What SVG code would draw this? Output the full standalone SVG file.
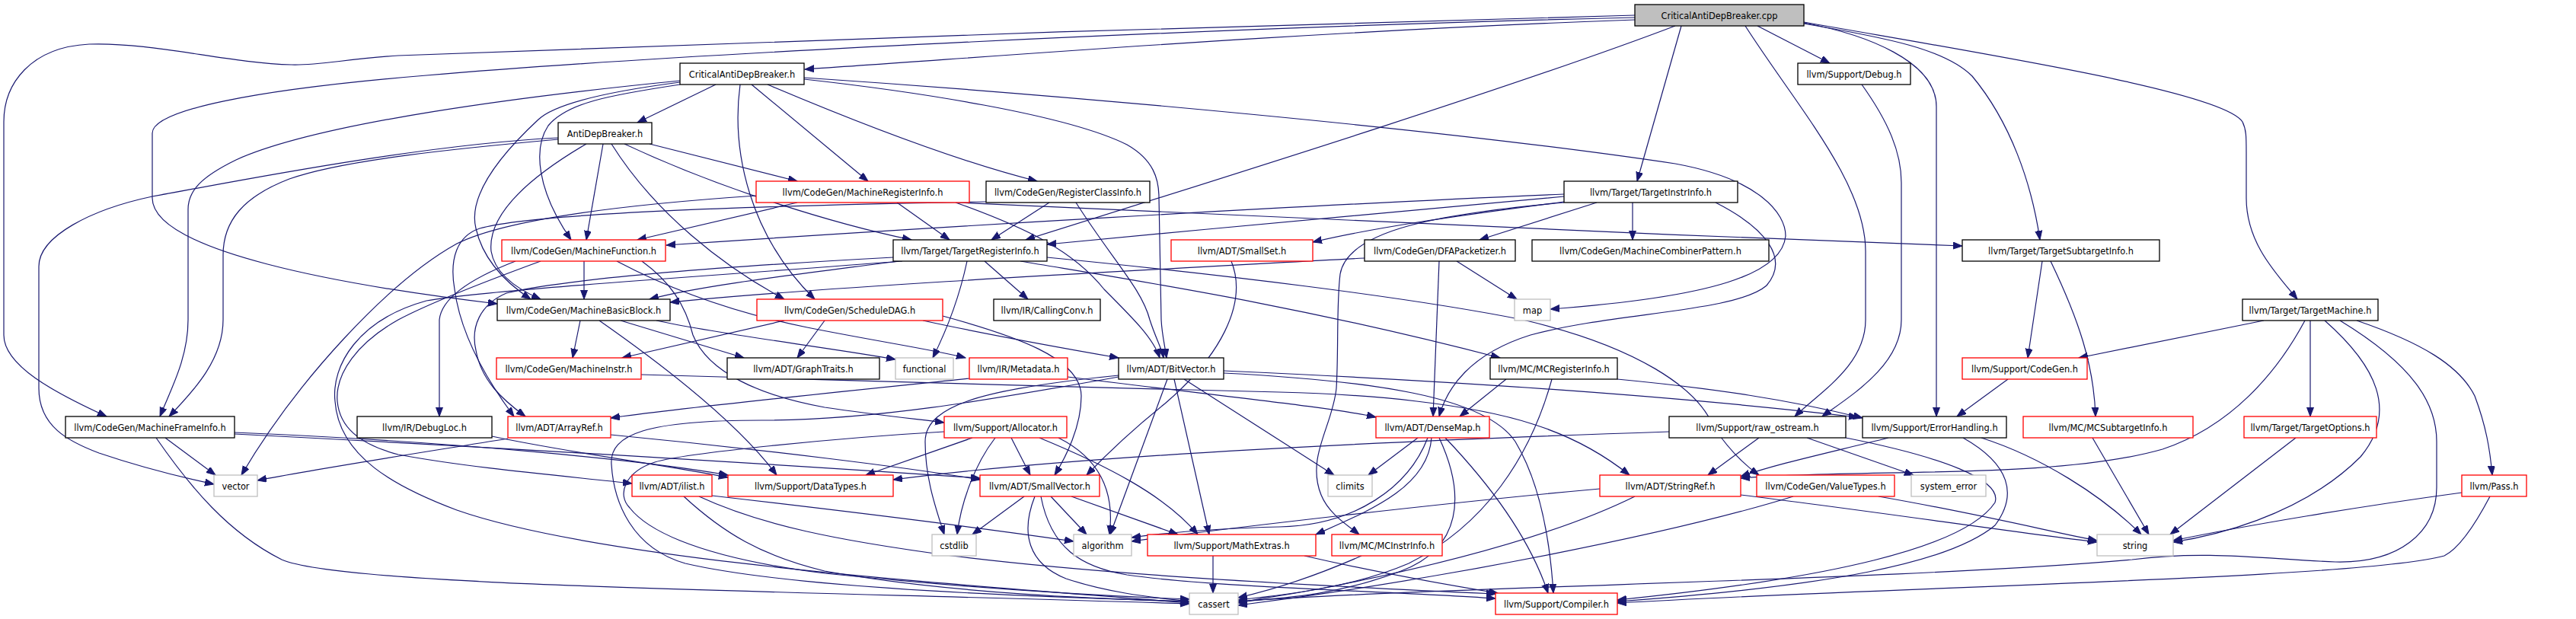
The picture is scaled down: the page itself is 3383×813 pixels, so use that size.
<svg xmlns="http://www.w3.org/2000/svg" width="3383" height="813" viewBox="0 0 3383 813">
<style>
.node rect{fill:#ffffff;stroke:#000000;stroke-width:1.3}
.node.red rect{stroke:#ff0000}
.node.gray rect{stroke:#bfbfbf}
.node.root rect{fill:#bfbfbf}
.node text{font-family:"DejaVu Sans",sans-serif;font-size:11.4px;fill:#000;text-anchor:middle}
#edges path{fill:none;stroke:#191970;stroke-width:1.2;marker-end:url(#arr)}
</style>
<defs>
<marker id="arr" markerUnits="userSpaceOnUse" markerWidth="13" markerHeight="10" refX="12" refY="4.5" orient="auto">
<path d="M0,0 L12,4.5 L0,9 z" fill="#191970" stroke="#191970" stroke-width="1"/>
</marker>
</defs>
<rect width="3383" height="813" fill="#ffffff"/>
<g id="edges">
<path d="M2147,26 C1700,42 1300,75 1057,91"/>
<path d="M2147,20 C1700,30 900,58 523,73 C450,78 420,86 383,85 C300,83 200,55 117,58 C40,62 5,110 5,160 L5,440 C5,480 70,515 140,547"/>
<path d="M2147,23 C1600,36 900,70 560,99 C330,118 200,145 200,175 L200,260 C200,330 450,375 653,399"/>
<path d="M2200,34 C2000,110 1650,220 1347,315"/>
<path d="M2208,34 L2150,238"/>
<path d="M2308,34 L2403,83"/>
<path d="M2292,34 C2360,140 2450,240 2450,330 L2450,420 C2450,480 2390,515 2357,547"/>
<path d="M2369,30 C2450,45 2543,80 2543,140 L2543,547"/>
<path d="M2369,31 C2480,50 2555,65 2590,100 C2640,160 2668,240 2679,315"/>
<path d="M2369,29 C2600,70 2920,120 2945,160 C2950,170 2950,180 2950,200 L2950,260 C2950,320 2990,360 3017,393"/>
<path d="M940,111 L837,161"/>
<path d="M893,106 C700,125 420,160 310,210 C265,232 247,250 247,275 L247,420 C247,470 225,510 210,547"/>
<path d="M893,111 C800,125 745,135 720,165 C700,195 705,250 750,315"/>
<path d="M893,108 C800,120 730,135 707,157 C650,210 615,260 625,300 C635,345 670,375 697,393"/>
<path d="M987,111 L1140,238"/>
<path d="M1008,111 C1100,150 1250,210 1362,238"/>
<path d="M972,111 C960,200 985,310 1070,393"/>
<path d="M1056,104 C1200,120 1400,150 1480,190 C1515,210 1522,235 1522,260 L1525,420 C1526,440 1530,455 1532,470"/>
<path d="M1056,102 C1400,125 1900,170 2200,215 C2310,235 2345,280 2345,310 C2340,360 2250,390 2036,406"/>
<path d="M733,183 C600,195 450,210 380,235 C320,258 293,290 293,335 L293,420 C293,470 258,510 222,547"/>
<path d="M733,181 C550,190 300,240 200,258 C120,275 51,310 51,350 L51,510 C51,560 90,580 130,595 C180,612 230,625 281,636"/>
<path d="M792,189 L770,315"/>
<path d="M770,189 C700,230 640,280 645,330 C650,360 680,380 710,393"/>
<path d="M853,189 L1047,238"/>
<path d="M803,189 C860,280 950,350 1030,393"/>
<path d="M820,189 C950,250 1100,295 1197,315"/>
<path d="M1047,266 L837,315"/>
<path d="M1178,266 L1247,315"/>
<path d="M1255,266 C1350,300 1410,330 1450,380 C1490,420 1515,445 1523,470"/>
<path d="M1257,266 C1500,280 2100,305 2577,323"/>
<path d="M993,257 C800,270 660,290 600,320 C510,370 390,500 317,624"/>
<path d="M1378,266 L1302,315"/>
<path d="M1413,266 C1460,340 1500,380 1510,420 C1518,445 1526,458 1528,470"/>
<path d="M1295,265 C1000,270 700,280 630,300 C600,310 590,340 597,380 C605,440 640,500 675,547"/>
<path d="M2054,255 C1700,270 1200,300 875,322"/>
<path d="M2054,258 C1800,280 1600,300 1375,321"/>
<path d="M2054,265 C1900,285 1800,300 1724,318"/>
<path d="M2097,266 L1943,315"/>
<path d="M2144,266 L2144,315"/>
<path d="M2054,266 C1900,280 1770,300 1760,360 C1755,400 1758,460 1755,510 C1750,560 1715,600 1735,650 C1745,675 1770,690 1785,702"/>
<path d="M2253,266 C2320,300 2350,340 2320,375 C2280,410 2120,410 2010,440 C1930,465 1900,510 1890,547"/>
<path d="M767,343 L767,393"/>
<path d="M677,343 C620,365 580,390 577,420 L577,547"/>
<path d="M710,343 C650,365 570,395 523,420 C470,450 440,490 443,527 C446,560 470,583 523,597 C620,615 740,625 830,635"/>
<path d="M810,343 C880,380 960,410 1060,430 C1150,448 1230,460 1268,470"/>
<path d="M843,343 C880,370 900,400 910,440 C930,490 1000,520 1083,535 C1150,545 1200,550 1240,555"/>
<path d="M1270,343 C1260,390 1245,430 1225,470"/>
<path d="M1293,343 L1350,393"/>
<path d="M1340,343 C1500,370 1700,400 1970,470"/>
<path d="M1375,338 C1600,360 1850,390 2000,420 C2150,455 2230,510 2250,560 C2270,590 2290,610 2310,624"/>
<path d="M1173,338 C950,350 750,365 665,385 C630,400 618,430 625,460 C632,500 660,525 690,547"/>
<path d="M1180,343 C1050,360 920,375 853,393"/>
<path d="M1185,343 C900,365 650,380 560,395 C470,420 435,480 440,527 C445,600 520,640 600,670 C800,740 1300,770 1562,792"/>
<path d="M762,421 L752,470"/>
<path d="M787,421 C900,500 980,570 1020,624"/>
<path d="M815,421 L977,470"/>
<path d="M862,421 C950,440 1080,455 1176,472"/>
<path d="M1030,421 L817,470"/>
<path d="M1083,421 L1047,470"/>
<path d="M1212,421 C1300,440 1400,458 1469,470"/>
<path d="M1238,415 C1330,440 1420,470 1420,520 C1420,560 1400,600 1385,624"/>
<path d="M1617,343 C1640,400 1600,470 1530,530 C1480,570 1450,600 1427,624"/>
<path d="M1792,339 C1500,355 1100,375 880,397"/>
<path d="M1890,343 L1882,547"/>
<path d="M1913,343 L1992,393"/>
<path d="M2682,343 L2663,470"/>
<path d="M2693,343 C2730,420 2750,480 2752,547"/>
<path d="M2973,421 L2730,470"/>
<path d="M3027,421 C2990,490 2930,560 2840,590 C2700,630 2450,615 2286,628"/>
<path d="M3034,421 L3034,547"/>
<path d="M3053,421 C3120,480 3150,540 3100,600 C3020,680 2900,705 2854,712"/>
<path d="M3073,421 C3170,480 3200,530 3200,580 L3200,640 C3200,700 3150,740 3067,738 C2980,735 2900,722 2800,735 C2500,762 1900,770 1626,790"/>
<path d="M3095,421 C3180,450 3230,480 3250,520 C3265,560 3270,590 3273,624"/>
<path d="M2445,111 C2480,160 2497,200 2497,240 L2497,420 C2497,480 2430,520 2393,547"/>
<path d="M3015,575 L2850,702"/>
<path d="M3233,647 C3100,665 2950,690 2854,710"/>
<path d="M3270,652 C3250,690 3230,720 3210,730 C3100,760 2500,770 2124,792"/>
<path d="M2637,498 L2570,547"/>
<path d="M2748,575 L2822,702"/>
<path d="M2480,575 C2400,595 2330,610 2286,626"/>
<path d="M2578,575 C2640,610 2650,650 2620,690 C2560,740 2400,770 2124,790"/>
<path d="M2602,575 C2680,600 2760,650 2812,702"/>
<path d="M2310,575 L2243,624"/>
<path d="M2373,575 L2513,624"/>
<path d="M2424,575 C2550,600 2630,630 2620,660 C2580,720 2400,760 2124,788"/>
<path d="M2192,567 C1800,580 1400,600 1173,630"/>
<path d="M1978,498 L1917,547"/>
<path d="M2124,498 C2250,510 2350,525 2446,549"/>
<path d="M2038,498 C2010,600 1950,690 1850,740 C1780,770 1700,780 1626,788"/>
<path d="M1533,498 L1458,702"/>
<path d="M1542,498 L1588,702"/>
<path d="M1555,498 L1752,624"/>
<path d="M1469,493 C1300,510 1215,530 1215,580 C1215,630 1230,670 1240,702"/>
<path d="M1607,487 C1900,500 2200,520 2440,548"/>
<path d="M1607,490 C1800,500 1950,520 1990,580 C2020,630 2035,700 2040,779"/>
<path d="M1469,495 C1300,525 1150,552 1000,552 C850,552 800,570 803,610 C806,660 830,720 900,740 C1050,775 1400,785 1562,790"/>
<path d="M1273,497 C1100,515 900,535 802,549"/>
<path d="M1402,495 C1600,520 1750,535 1807,548"/>
<path d="M842,492 C1100,500 1400,508 1680,515 C1800,518 1930,530 2013,557 C2070,575 2110,600 2140,624"/>
<path d="M1277,575 L1137,624"/>
<path d="M1307,575 C1280,610 1262,660 1257,702"/>
<path d="M1328,575 L1353,624"/>
<path d="M1365,575 C1450,610 1530,650 1573,702"/>
<path d="M1390,575 C1440,600 1465,640 1457,702"/>
<path d="M1240,567 C1100,575 900,595 860,607 C820,620 810,650 827,667 C845,690 900,730 1083,753 C1300,775 1450,783 1562,787"/>
<path d="M1862,575 L1797,624"/>
<path d="M1875,575 C1850,640 1780,690 1680,692 C1600,694 1530,700 1486,706"/>
<path d="M1880,575 C1875,640 1800,670 1728,702"/>
<path d="M1890,575 C1925,650 1920,720 1840,750 C1760,780 1700,785 1626,790"/>
<path d="M1898,575 C1960,640 2010,710 2033,779"/>
<path d="M646,573 C750,595 870,610 956,627"/>
<path d="M667,576 C550,595 420,615 338,631"/>
<path d="M802,571 C1000,590 1200,615 1287,630"/>
<path d="M217,575 L283,624"/>
<path d="M205,575 C250,640 300,700 370,735 C450,770 1000,775 1562,793"/>
<path d="M308,568 C600,580 850,605 956,624"/>
<path d="M308,570 C700,590 1100,615 1287,628"/>
<path d="M935,651 C1100,670 1300,695 1410,711"/>
<path d="M918,652 C1000,690 1100,710 1250,730 C1450,755 1700,768 1964,780"/>
<path d="M898,652 C950,700 1000,730 1083,750 C1250,780 1450,787 1562,790"/>
<path d="M1345,652 L1277,702"/>
<path d="M1359,652 C1340,700 1350,740 1400,760 C1460,780 1520,785 1562,790"/>
<path d="M1367,652 C1380,720 1420,745 1480,755 C1600,772 1800,775 1964,786"/>
<path d="M1380,652 L1427,702"/>
<path d="M1407,652 L1547,702"/>
<path d="M1593,730 L1593,779"/>
<path d="M1713,730 C1800,750 1900,768 1967,779"/>
<path d="M1788,730 C1720,760 1670,775 1626,785"/>
<path d="M2101,642 C1900,660 1600,695 1486,711"/>
<path d="M2147,652 C2050,700 1900,740 1750,770 C1700,780 1660,785 1626,792"/>
<path d="M2286,650 C2450,670 2650,700 2754,712"/>
<path d="M2355,652 C2200,700 1900,760 1626,795"/>
<path d="M2467,652 C2600,675 2700,700 2754,710"/>
</g>
<g id="n_root" class="node root"><rect x="2147" y="6" width="222" height="28"/><text x="2258" y="24.5">CriticalAntiDepBreaker.cpp</text></g>
<g id="n_cadb" class="node"><rect x="893" y="83" width="163" height="28"/><text x="974.5" y="101.5">CriticalAntiDepBreaker.h</text></g>
<g id="n_debug" class="node"><rect x="2361" y="83" width="148" height="28"/><text x="2435" y="101.5">llvm/Support/Debug.h</text></g>
<g id="n_adb" class="node"><rect x="733" y="161" width="123" height="28"/><text x="794.5" y="179.5">AntiDepBreaker.h</text></g>
<g id="n_mri" class="node red"><rect x="993" y="238" width="280" height="28"/><text x="1133" y="256.5">llvm/CodeGen/MachineRegisterInfo.h</text></g>
<g id="n_rci" class="node"><rect x="1295" y="238" width="215" height="28"/><text x="1402.5" y="256.5">llvm/CodeGen/RegisterClassInfo.h</text></g>
<g id="n_tii" class="node"><rect x="2054" y="238" width="228" height="28"/><text x="2168" y="256.5">llvm/Target/TargetInstrInfo.h</text></g>
<g id="n_mf" class="node red"><rect x="659" y="315" width="215" height="28"/><text x="766.5" y="333.5">llvm/CodeGen/MachineFunction.h</text></g>
<g id="n_tri" class="node"><rect x="1173" y="315" width="202" height="28"/><text x="1274" y="333.5">llvm/Target/TargetRegisterInfo.h</text></g>
<g id="n_smallset" class="node red"><rect x="1538" y="315" width="186" height="28"/><text x="1631" y="333.5">llvm/ADT/SmallSet.h</text></g>
<g id="n_dfap" class="node"><rect x="1792" y="315" width="198" height="28"/><text x="1891" y="333.5">llvm/CodeGen/DFAPacketizer.h</text></g>
<g id="n_mcp" class="node"><rect x="2012" y="315" width="311" height="28"/><text x="2167.5" y="333.5">llvm/CodeGen/MachineCombinerPattern.h</text></g>
<g id="n_tsi" class="node"><rect x="2577" y="315" width="259" height="28"/><text x="2706.5" y="333.5">llvm/Target/TargetSubtargetInfo.h</text></g>
<g id="n_mbb" class="node"><rect x="653" y="393" width="227" height="28"/><text x="766.5" y="411.5">llvm/CodeGen/MachineBasicBlock.h</text></g>
<g id="n_sdag" class="node red"><rect x="994" y="393" width="244" height="28"/><text x="1116" y="411.5">llvm/CodeGen/ScheduleDAG.h</text></g>
<g id="n_cc" class="node"><rect x="1305" y="393" width="140" height="28"/><text x="1375" y="411.5">llvm/IR/CallingConv.h</text></g>
<g id="n_map" class="node gray"><rect x="1989" y="393" width="47" height="28"/><text x="2012.5" y="411.5">map</text></g>
<g id="n_tm" class="node"><rect x="2945" y="393" width="178" height="28"/><text x="3034" y="411.5">llvm/Target/TargetMachine.h</text></g>
<g id="n_mi" class="node red"><rect x="652" y="470" width="190" height="28"/><text x="747" y="488.5">llvm/CodeGen/MachineInstr.h</text></g>
<g id="n_gt" class="node"><rect x="955" y="470" width="200" height="28"/><text x="1055" y="488.5">llvm/ADT/GraphTraits.h</text></g>
<g id="n_functional" class="node gray"><rect x="1176" y="470" width="76" height="28"/><text x="1214" y="488.5">functional</text></g>
<g id="n_metadata" class="node red"><rect x="1273" y="470" width="129" height="28"/><text x="1337.5" y="488.5">llvm/IR/Metadata.h</text></g>
<g id="n_bitvector" class="node"><rect x="1469" y="470" width="138" height="28"/><text x="1538" y="488.5">llvm/ADT/BitVector.h</text></g>
<g id="n_mcreg" class="node"><rect x="1957" y="470" width="167" height="28"/><text x="2040.5" y="488.5">llvm/MC/MCRegisterInfo.h</text></g>
<g id="n_supcg" class="node red"><rect x="2577" y="470" width="164" height="28"/><text x="2659" y="488.5">llvm/Support/CodeGen.h</text></g>
<g id="n_mfi" class="node"><rect x="86" y="547" width="222" height="28"/><text x="197" y="565.5">llvm/CodeGen/MachineFrameInfo.h</text></g>
<g id="n_debugloc" class="node"><rect x="469" y="547" width="177" height="28"/><text x="557.5" y="565.5">llvm/IR/DebugLoc.h</text></g>
<g id="n_arrayref" class="node red"><rect x="667" y="547" width="135" height="28"/><text x="734.5" y="565.5">llvm/ADT/ArrayRef.h</text></g>
<g id="n_alloc" class="node red"><rect x="1240" y="547" width="161" height="28"/><text x="1320.5" y="565.5">llvm/Support/Allocator.h</text></g>
<g id="n_densemap" class="node red"><rect x="1807" y="547" width="149" height="28"/><text x="1881.5" y="565.5">llvm/ADT/DenseMap.h</text></g>
<g id="n_rawos" class="node"><rect x="2192" y="547" width="232" height="28"/><text x="2308" y="565.5">llvm/Support/raw_ostream.h</text></g>
<g id="n_errh" class="node"><rect x="2446" y="547" width="189" height="28"/><text x="2540.5" y="565.5">llvm/Support/ErrorHandling.h</text></g>
<g id="n_mcsti" class="node red"><rect x="2657" y="547" width="223" height="28"/><text x="2768.5" y="565.5">llvm/MC/MCSubtargetInfo.h</text></g>
<g id="n_topts" class="node red"><rect x="2947" y="547" width="174" height="28"/><text x="3034" y="565.5">llvm/Target/TargetOptions.h</text></g>
<g id="n_vector" class="node gray"><rect x="281" y="624" width="57" height="28"/><text x="309.5" y="642.5">vector</text></g>
<g id="n_ilist" class="node red"><rect x="830" y="624" width="105" height="28"/><text x="882.5" y="642.5">llvm/ADT/ilist.h</text></g>
<g id="n_datatypes" class="node red"><rect x="956" y="624" width="217" height="28"/><text x="1064.5" y="642.5">llvm/Support/DataTypes.h</text></g>
<g id="n_smallvec" class="node red"><rect x="1287" y="624" width="157" height="28"/><text x="1365.5" y="642.5">llvm/ADT/SmallVector.h</text></g>
<g id="n_climits" class="node gray"><rect x="1744" y="624" width="58" height="28"/><text x="1773" y="642.5">climits</text></g>
<g id="n_stringref" class="node red"><rect x="2101" y="624" width="185" height="28"/><text x="2193.5" y="642.5">llvm/ADT/StringRef.h</text></g>
<g id="n_valuetypes" class="node red"><rect x="2307" y="624" width="181" height="28"/><text x="2397.5" y="642.5">llvm/CodeGen/ValueTypes.h</text></g>
<g id="n_syserr" class="node gray"><rect x="2510" y="624" width="98" height="28"/><text x="2559" y="642.5">system_error</text></g>
<g id="n_pass" class="node red"><rect x="3233" y="624" width="85" height="28"/><text x="3275.5" y="642.5">llvm/Pass.h</text></g>
<g id="n_cstdlib" class="node gray"><rect x="1224" y="702" width="58" height="28"/><text x="1253" y="720.5">cstdlib</text></g>
<g id="n_algorithm" class="node gray"><rect x="1410" y="702" width="76" height="28"/><text x="1448" y="720.5">algorithm</text></g>
<g id="n_mathext" class="node red"><rect x="1507" y="702" width="221" height="28"/><text x="1617.5" y="720.5">llvm/Support/MathExtras.h</text></g>
<g id="n_mcinstr" class="node red"><rect x="1749" y="702" width="145" height="28"/><text x="1821.5" y="720.5">llvm/MC/MCInstrInfo.h</text></g>
<g id="n_string" class="node gray"><rect x="2754" y="702" width="100" height="28"/><text x="2804" y="720.5">string</text></g>
<g id="n_cassert" class="node gray"><rect x="1562" y="779" width="64" height="28"/><text x="1594" y="797.5">cassert</text></g>
<g id="n_compiler" class="node red"><rect x="1964" y="779" width="160" height="28"/><text x="2044" y="797.5">llvm/Support/Compiler.h</text></g>
</svg>
